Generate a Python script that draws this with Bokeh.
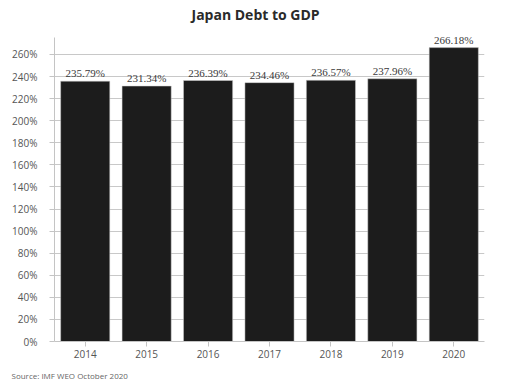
from bokeh.plotting import figure
from bokeh.models import ColumnDataSource, Range1d, FactorRange, LabelSet, Title, FixedTicker, PrintfTickFormatter
from bokeh.embed import file_html
from bokeh.resources import INLINE

years = ["2014", "2015", "2016", "2017", "2018", "2019", "2020"]
debt = [235.79, 231.34, 236.39, 234.46, 236.57, 237.96, 266.18]
debt_labels = ["235.79%", "231.34%", "236.39%", "234.46%", "236.57%", "237.96%", "266.18%"]
y_ticks = [0, 20, 40, 60, 80, 100, 120, 140, 160, 180, 200, 220, 240, 260]

src = ColumnDataSource(dict(year=years, debt=debt, lab=debt_labels))

FONT = "Open Sans"
p = figure(width=515, height=390, output_backend="svg", toolbar_location=None,
           x_range=FactorRange(*years, range_padding=0), y_range=Range1d(0, 285.3),
           min_border_left=54, min_border_right=31, min_border_top=25, min_border_bottom=49)
p.outline_line_color = None
p.background_fill_color = "white"

p.title.text = "Japan Debt to GDP"
p.title.text_font = FONT
p.title.text_font_size = "14px"
p.title.text_font_style = "bold"
p.title.text_color = "#2a2a2a"
p.title.align = "left"
p.title.offset = 137
p.title.standoff = 5

p.add_layout(Title(text="Source: IMF WEO October 2020", text_font=FONT, text_font_size="8px",
                   text_font_style="normal", text_color="#666666", align="left", offset=-43,
                   standoff=14), "below")

p.vbar(x="year", top="debt", width=0.8, source=src, fill_color="#1c1c1c", line_color="#cfcfcf", line_width=0.5)

labels = LabelSet(x="year", y="debt", text="lab", source=src, text_align="center",
                  text_baseline="bottom", y_offset=2, text_font_size="11px",
                  text_color="#3a3a3a", text_font=FONT)
p.add_layout(labels)

p.yaxis.ticker = FixedTicker(ticks=y_ticks)
p.yaxis.formatter = PrintfTickFormatter(format="%d%%")
p.yaxis.bounds = (0, 275)
for ax in (p.xaxis, p.yaxis):
    ax.axis_line_color = "#c4c4c4"
    ax.major_tick_line_color = "#c4c4c4"
    ax.minor_tick_line_color = None
    ax.major_tick_in = 0
    ax.major_tick_out = 5
    ax.major_label_text_font = FONT
    ax.major_label_text_font_size = "10px"
    ax.major_label_text_color = "#555555"
p.yaxis.major_label_standoff = 12
p.xaxis.major_label_standoff = 3

p.xgrid.grid_line_color = None
p.ygrid.grid_line_color = "#c8c8c8"
p.ygrid.ticker = FixedTicker(ticks=y_ticks)

open("out.html", "w").write(file_html(p, INLINE))
